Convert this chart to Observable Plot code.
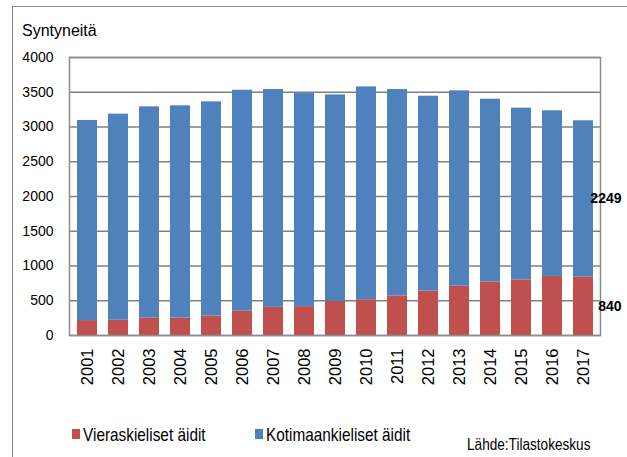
<!DOCTYPE html>
<html>
<head>
<meta charset="utf-8">
<script src="https://cdn.jsdelivr.net/npm/d3@7"></script>
<script src="https://cdn.jsdelivr.net/npm/@observablehq/plot@0.6"></script>
<style>
  html, body { margin: 0; padding: 0; background: #fff; }
  #wrap { position: relative; width: 627px; height: 457px; overflow: hidden; font-family: "Liberation Sans", Arial, sans-serif; color: #000; }
  #frame { position: absolute; left: 12px; top: 6px; width: 700px; height: 600px; border-left: 1.5px solid #8a8a8a; border-top: 1.5px solid #8a8a8a; }
  #chart { position: absolute; left: 0; top: 0; }
  .abs { position: absolute; white-space: nowrap; line-height: 1; transform-origin: left center; }
  .sw { position: absolute; width: 8px; height: 10px; }
</style>
</head>
<body>
<div id="wrap">
  <div id="frame"></div>
  <div id="chart"></div>
  <div class="abs" id="title" style="left:22px; top:23px; font-size:16px;">Syntyneitä</div>
  <div class="sw" style="left:72px; top:429px; background:#C0504D;"></div>
  <div class="abs" style="left:83px; top:426px; font-size:18.5px; transform:scaleX(0.83);">Vieraskieliset äidit</div>
  <div class="sw" style="left:255px; top:429px; background:#4F81BD;"></div>
  <div class="abs" style="left:266px; top:426px; font-size:18.5px; transform:scaleX(0.83);">Kotimaankieliset äidit</div>
  <div class="abs" style="left:467px; top:436px; font-size:17px; transform:scaleX(0.8);">Lähde:Tilastokeskus</div>
</div>
<script>
const years = ["2001","2002","2003","2004","2005","2006","2007","2008","2009","2010","2011","2012","2013","2014","2015","2016","2017"];
const vieraskieliset = [215,220,250,250,280,350,405,415,490,515,570,640,710,770,800,850,840];
const kotimaankieliset = [2879,2965,3040,3055,3082,3179,3134,3066,2972,3062,2969,2803,2810,2630,2471,2383,2249];
const seriesNames = ["Vieraskieliset äidit", "Kotimaankieliset äidit"];
const seriesColors = ["#C0504D", "#4F81BD"];
const yTicks = [0,500,1000,1500,2000,2500,3000,3500,4000];

const data = [];
years.forEach((y, i) => {
  data.push({year: y, series: seriesNames[0], value: vieraskieliset[i]});
  data.push({year: y, series: seriesNames[1], value: kotimaankieliset[i]});
});
const lastYear = years[years.length - 1];
const lastData = data.filter(d => d.year === lastYear);

const chart = Plot.plot({
  width: 627,
  height: 400,
  marginTop: 57,
  marginBottom: 65,
  marginLeft: 69,
  marginRight: 27,
  style: {fontFamily: "'Liberation Sans', Arial, sans-serif", background: "transparent", overflow: "visible"},
  x: {domain: years, paddingInner: 0.36, paddingOuter: 0.18, label: null},
  y: {domain: [0, 4000], label: null},
  color: {domain: seriesNames, range: seriesColors},
  marks: [
    Plot.gridY(yTicks, {stroke: "#808080", strokeOpacity: 1, strokeWidth: 1.5}),
    Plot.barY(data, {x: "year", y: "value", fill: "series", z: "series", order: seriesNames}),
    Plot.frame({stroke: "#8c8c8c", strokeWidth: 1.5}),
    Plot.axisY(yTicks, {tickSize: 0, tickPadding: 16, fontSize: 14, tickFormat: d => String(d), label: null}),
    Plot.axisX({tickSize: 0, tickPadding: 13, tickRotate: -90, fontSize: 16.5, label: null}),
    Plot.text(lastData, Plot.stackY({x: "year", y: "value", z: "series", text: d => String(d.value), order: seriesNames, textAnchor: "end", dx: 38, fontSize: 14, fontWeight: "bold", fill: "#000"}))
  ]
});
document.getElementById("chart").appendChild(chart);
</script>
</body>
</html>
